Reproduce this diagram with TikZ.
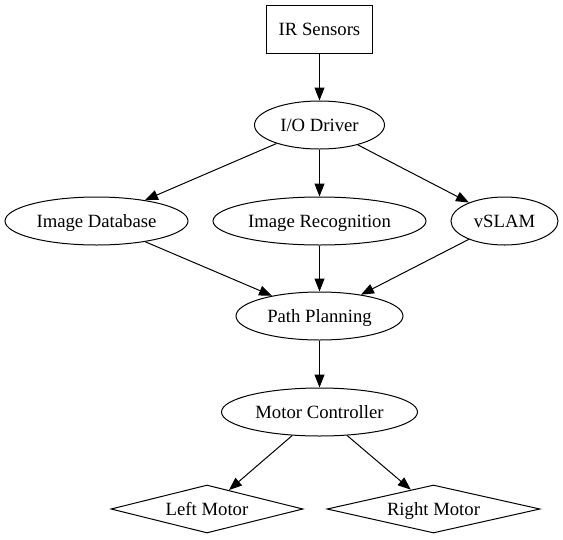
\documentclass[tikz,border=0pt]{standalone}
\usepackage{fontspec}
\setmainfont{Liberation Serif}
\usetikzlibrary{arrows.meta,shapes.geometric}

\tikzset{
  blk/.style={draw,line width=1pt,font=\fontsize{18.7}{22}\selectfont,text height=12.5pt,text depth=0.5pt},
  sqbox/.style={blk,rectangle,minimum width=106pt,minimum height=48pt},
  oval/.style={blk,ellipse,minimum height=48pt,inner sep=0pt},
  kite/.style={blk,diamond,aspect=4,minimum height=48pt,inner sep=0pt},
  link/.style={line width=1pt,-{Triangle[length=13pt,width=10pt]}}
}

\begin{document}
\begin{tikzpicture}[x=1pt,y=-1pt]
  \useasboundingbox (0,0) rectangle (563,539);
  \node[sqbox] (ir) at (319.5,29) {IR Sensors};
  \node[oval,minimum width=130pt] (io) at (319.5,125) {I/O Driver};
  \node[oval,minimum width=183pt] (imgdb) at (96.5,221) {Image Database};
  \node[oval,minimum width=213pt] (imgrec) at (319.5,221) {Image Recognition};
  \node[oval,minimum width=107pt] (vslam) at (504.5,221) {vSLAM};
  \node[oval,minimum width=167pt] (path) at (319.5,316) {Path Planning};
  \node[oval,minimum width=196pt] (motor) at (319.5,412) {Motor Controller};
  \node[kite,minimum width=192pt] (left) at (207,509) {Left Motor};
  \node[kite,minimum width=213pt] (right) at (433.5,509) {Right Motor};

  \draw[link] (ir) -- (io);
  \draw[link] (io) -- (imgdb);
  \draw[link] (io) -- (imgrec);
  \draw[link] (io) -- (vslam);
  \draw[link] (imgdb) -- (path);
  \draw[link] (imgrec) -- (path);
  \draw[link] (vslam) -- (path);
  \draw[link] (path) -- (motor);
  \draw[link] (motor) -- (left);
  \draw[link] (motor) -- (right);
\end{tikzpicture}
\end{document}
